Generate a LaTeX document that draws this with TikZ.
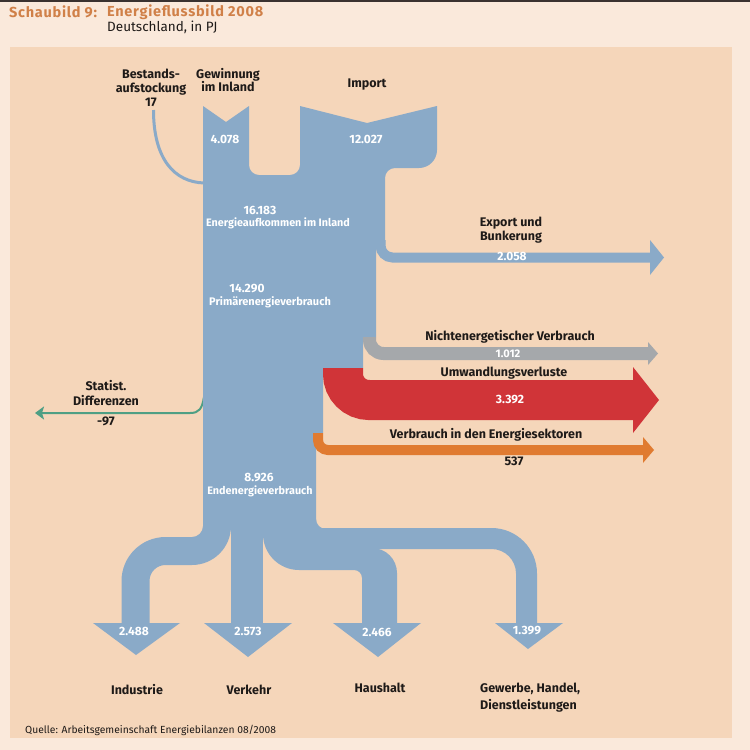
\documentclass[tikz,border=0pt]{standalone}
\usepackage{fontspec}
\setmainfont{Fira Sans}
\newfontfamily\titlefont[LetterSpace=5]{Fira Sans}
\usetikzlibrary{arrows.meta}
\definecolor{flowblue}{HTML}{8AAAC8}
\definecolor{flowgray}{HTML}{A5A8AB}
\definecolor{flowred}{HTML}{D03438}
\definecolor{floworange}{HTML}{E07B31}
\definecolor{flowgreen}{HTML}{4E9F84}
\definecolor{panel}{HTML}{F5D6BA}
\definecolor{pagebg}{HTML}{FAE9DB}
\definecolor{titlecol}{HTML}{D08048}
\definecolor{topline}{HTML}{3A3230}
\definecolor{ink}{HTML}{1E1A18}
\tikzset{
  lbl/.style={font=\bfseries\fontsize{12.5}{13}\selectfont, text=ink, inner sep=0pt, align=center},
  wnum/.style={font=\bfseries\fontsize{12}{14}\selectfont, text=white, inner sep=0pt},
  wsmall/.style={font=\bfseries\fontsize{10.8}{12}\selectfont, text=white, inner sep=0pt},
  wmid/.style={font=\bfseries\fontsize{11}{13}\selectfont, text=white, inner sep=0pt},
  band/.style={line cap=butt, line join=miter},
}
\begin{document}
\begin{tikzpicture}[x=1pt,y=-1pt]
\useasboundingbox (0,0) rectangle (750,750);
% backgrounds
\fill[pagebg] (0,0) rectangle (750,750);
\fill[panel] (10,47) rectangle (732,738);
\fill[topline] (0,0) rectangle (750,1.5);

% title
\node[font=\titlefont\bfseries\fontsize{14.5}{17}\selectfont, text=titlecol, anchor=west, inner sep=0pt] (t1) at (9,12) {Schaubild 9:};
\node[font=\titlefont\bfseries\fontsize{14.5}{17}\selectfont, text=titlecol, anchor=west, inner sep=0pt] (t2) at (107,12) {Energieflussbild 2008};
\node[font=\fontsize{13.5}{15}\selectfont, text=ink, anchor=west, inner sep=0pt] (t3) at (107,27) {Deutschland, in PJ};

% thin inflow / outflow lines
\coordinate (bs) at (153.5,110);
\coordinate (be) at (204,183);
\draw[flowblue, line width=3pt] (bs) .. controls (153.5,160) and (175,182) .. (be);
\coordinate (gs) at (204,397);
\coordinate (ge) at (35,413);
\draw[flowgreen, line width=2pt, -{Stealth[length=9pt,width=13pt,inset=2pt]}]
  (gs) .. controls (202,409) and (199,413) .. (190,413) -- (ge);

% main blue trunk
\fill[flowblue] (203,106) -- (226,122) -- (249,106) -- (249,165)
  arc[start angle=180,end angle=90,radius=10] -- (290,175)
  arc[start angle=90,end angle=0,radius=10] -- (300,106) -- (367,123) -- (437,106) -- (437,150)
  arc[start angle=0,end angle=90,radius=18] -- (395,168)
  arc[start angle=270,end angle=180,radius=10] -- (385,245) -- (376,245) -- (376,337)
  -- (363,337) -- (363,368) -- (323,368) -- (323,433) -- (316,433) -- (316,529) -- (203,529) -- cycle;

% export branch
\draw[flowblue, band, line width=10pt, rounded corners=12pt] (380.5,240) -- (380.5,257.5) -- (651,257.5);
\fill[flowblue] (650,240) -- (664,257.5) -- (650,275) -- cycle;
% non-energy use
\draw[flowgray, band, line width=13pt, rounded corners=14pt] (369.5,337) -- (369.5,353.5) -- (649,353.5);
\fill[flowgray] (648,342) -- (658,353.5) -- (648,365) -- cycle;
% conversion losses
\draw[flowred, band, line width=40pt, rounded corners=26pt] (343,368) -- (343,400) -- (634,400);
\fill[flowred] (633,367) -- (659,400) -- (633,433) -- cycle;
% energy sector use
\draw[floworange, band, line width=10pt, rounded corners=10pt] (318,433) -- (318,450) -- (644,450);
\fill[floworange] (643,437) -- (654,450) -- (643,463) -- cycle;

% final energy branches
% Industrie
\fill[flowblue] (203,500) -- (203,526) arc[start angle=0,end angle=90,radius=11] -- (165.5,537)
  arc[start angle=270,end angle=180,radius=44] -- (121.5,625) -- (149.5,625) -- (149.5,581)
  arc[start angle=180,end angle=270,radius=16] -- (192,565)
  arc[start angle=90,end angle=0,radius=39] -- (231,500) -- cycle;
\fill[flowblue] (93,623) -- (180,623) -- (136,655) -- cycle;
% Verkehr
\fill[flowblue] (231,520) rectangle (263,625);
\fill[flowblue] (204,623) -- (292,623) -- (248,657) -- cycle;
% Haushalt
\fill[flowblue] (263,520) -- (263,534) arc[start angle=180,end angle=90,radius=36] -- (354,570)
  arc[start angle=-90,end angle=0,radius=8] -- (362,625) -- (397,625) -- (397,573)
  arc[start angle=0,end angle=-90,radius=25] -- (300,548) -- (300,520) -- cycle;
\fill[flowblue] (333,623) -- (421,623) -- (378,657) -- cycle;
% Gewerbe
\fill[flowblue] (300,528) -- (491.5,528) arc[start angle=-90,end angle=0,radius=45.5] -- (537,625)
  -- (516,625) -- (516,573.5) arc[start angle=0,end angle=-90,radius=24.5] -- (300,549) -- cycle;
\fill[flowblue] (316,519) -- (316,529) -- (326,529) arc[start angle=90,end angle=180,radius=10] -- cycle;
\fill[flowblue] (495,623) -- (563,623) -- (528,649) -- cycle;

% white values
\node[wnum] (n4078) at (225,139) {4.078};
\node[wnum] (n12027) at (366,139) {12.027};
\node[wnum] (n16183) at (260,210) {16.183};
\node[wsmall] (naufk) at (278,223) {Energieaufkommen im Inland};
\node[wnum] (n14290) at (247,289) {14.290};
\node[wmid] (nprim) at (270,302) {Primärenergieverbrauch};
\node[wnum] (n2058) at (512,256) {2.058};
\node[wmid] (n1012) at (508,354) {1.012};
\node[wnum] (n3392) at (510,400) {3.392};
\node[wnum] (n8926) at (259,478) {8.926};
\node[wsmall] (nend) at (260,491) {Endenergieverbrauch};
\node[wnum] (n2488) at (134,631) {2.488};
\node[wnum] (n2573) at (248,631) {2.573};
\node[wnum] (n2466) at (377,632) {2.466};
\node[wnum] (n1399) at (527,631) {1.399};

% black labels
\node[lbl, font=\bfseries\fontsize{12.5}{14}\selectfont] (lbest) at (151,88) {Bestands-\\aufstockung\\17};
\node[lbl, font=\bfseries\fontsize{12.5}{12}\selectfont] (lgew) at (228,80) {Gewinnung\\im Inland};
\node[lbl] (limp) at (367,85) {Import};
\node[lbl, font=\bfseries\fontsize{12.5}{14}\selectfont] (lexp) at (511,230) {Export und\\Bunkerung};
\node[lbl] (lnicht) at (510,337) {Nichtenergetischer Verbrauch};
\node[lbl] (lumw) at (504,373) {Umwandlungsverluste};
\node[lbl] (lsek) at (486,435) {Verbrauch in den Energiesektoren};
\node[lbl] (l537) at (514,461) {537};
\node[lbl, font=\bfseries\fontsize{12.5}{15}\selectfont] (lstat) at (106,393.5) {Statist.\\Differenzen};
\node[lbl] (l97) at (106,421) {-97};
\node[lbl] (lind) at (137,690) {Industrie};
\node[lbl] (lverk) at (249,690) {Verkehr};
\node[lbl] (lhaus) at (380,688) {Haushalt};
\node[lbl, font=\bfseries\fontsize{12.5}{17}\selectfont, align=left, anchor=west] (lghd) at (480,697.5) {Gewerbe, Handel,\\Dienstleistungen};

\node[font=\fontsize{10.3}{12}\selectfont, text=ink, anchor=west, inner sep=0pt] (quelle) at (25,730) {Quelle: Arbeitsgemeinschaft Energiebilanzen 08/2008};
\end{tikzpicture}
\end{document}
